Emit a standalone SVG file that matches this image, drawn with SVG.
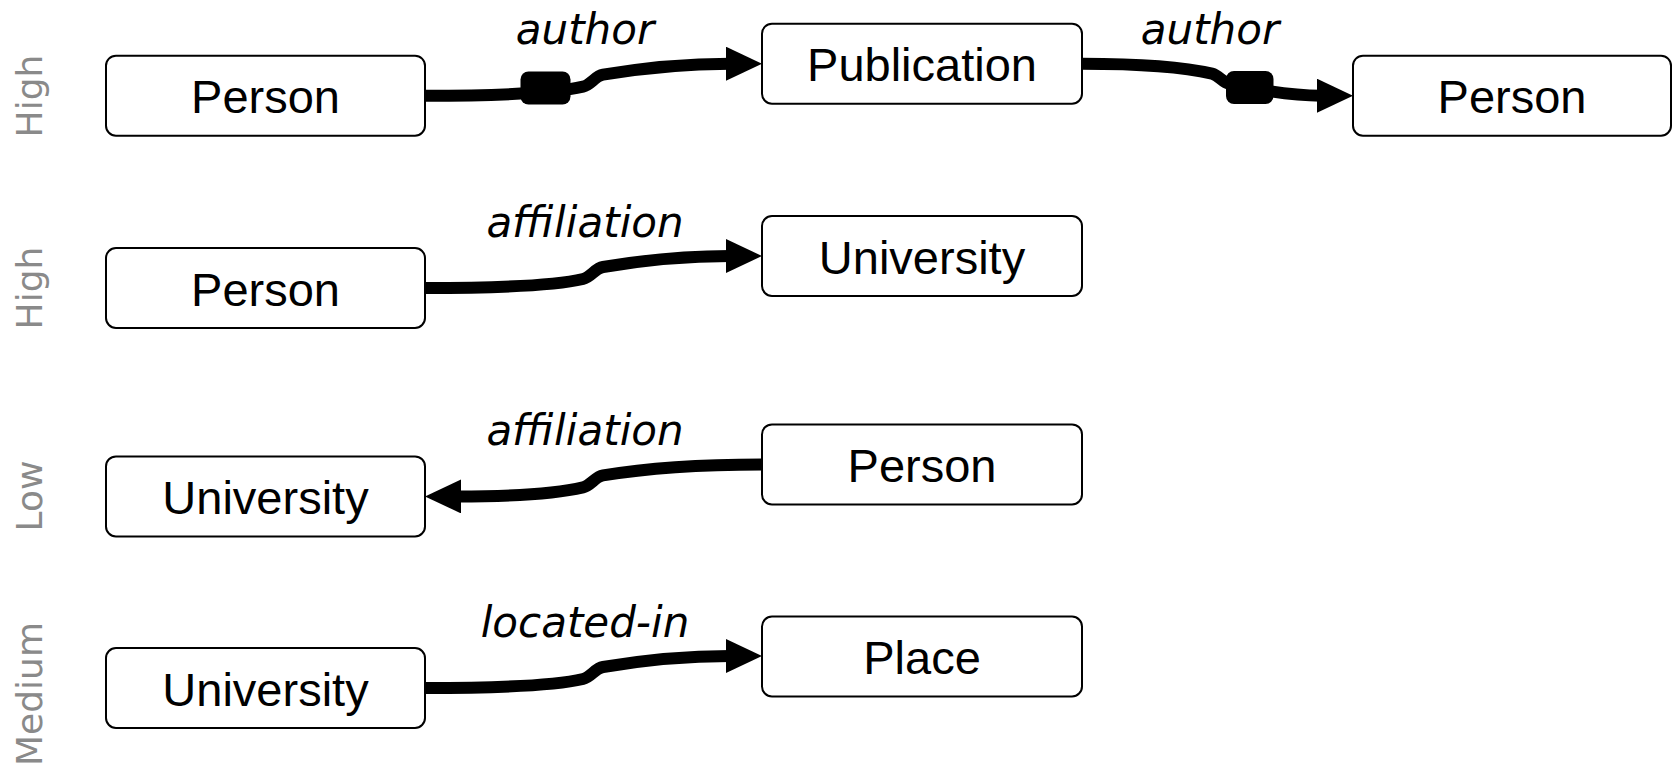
<svg xmlns="http://www.w3.org/2000/svg" width="1676" height="767" viewBox="0 0 1676 767">
  <style>
    .box { fill: #ffffff; stroke: #000000; stroke-width: 2; }
    .label { font-family: "Liberation Sans", Arial, sans-serif; font-size: 47px; fill: #000000; text-anchor: middle; }
    .edge { fill: none; stroke: #000000; stroke-width: 12; }
    .edge-label { font-family: "DejaVu Sans", Verdana, sans-serif; font-style: italic; font-size: 42px; fill: #000000; text-anchor: middle; }
    .level { font-family: "DejaVu Sans", Verdana, sans-serif; font-size: 36px; fill: #8a8a8a; text-anchor: middle; }
    .block { fill: #000000; }
  </style>
  <defs>
    <marker id="arrow" markerUnits="userSpaceOnUse" markerWidth="36" markerHeight="34" refX="4" refY="17" orient="auto">
      <path d="M0,0 L36,17 L0,34 z" fill="#000000"/>
    </marker>
  </defs>

  <rect width="1676" height="767" fill="#ffffff"/>

  <!-- row levels -->
  <g id="levels">
    <text class="level" transform="translate(41.7,96) rotate(-90)">High</text>
    <text class="level" transform="translate(41.7,288) rotate(-90)">High</text>
    <text class="level" transform="translate(41.7,496) rotate(-90)">Low</text>
    <text class="level" transform="translate(41.7,694) rotate(-90)">Medium</text>
  </g>

  <!-- connectors -->
  <g id="connectors">
    <path class="edge" marker-end="url(#arrow)" d="M425,95.7 Q545,95.7 583,86.7 C591,84.8 595,76.1 603,74.7 Q668,63.7 730,63.7"/>
    <rect class="block" x="520.5" y="71.5" width="50" height="33" rx="8"/>
    <text class="edge-label" x="585" y="43.5">author</text>

    <path class="edge" marker-end="url(#arrow)" d="M1082,63.7 Q1170,63.7 1212,73.7 C1219,75.4 1222,82.2 1229,83.7 Q1285,95.7 1321,95.7"/>
    <rect class="block" x="1226" y="71" width="47.5" height="33" rx="8"/>
    <text class="edge-label" x="1210" y="43.5">author</text>

    <path class="edge" marker-end="url(#arrow)" d="M425,288 Q545,288 583,279 C591,277.1 595,268.4 603,267 Q668,256 730,256"/>
    <text class="edge-label" x="585" y="236.5">affiliation</text>

    <path class="edge" marker-end="url(#arrow)" d="M762,464.4 Q668,464.4 603,475.4 C595,476.8 591,485.5 583,487.4 Q545,496.4 457,496.4"/>
    <text class="edge-label" x="585" y="444.5">affiliation</text>

    <path class="edge" marker-end="url(#arrow)" d="M425,688 Q545,688 583,679 C591,677.1 595,668.4 603,667 Q668,656 730,656"/>
    <text class="edge-label" x="585" y="636.5">located-in</text>
  </g>

  <!-- nodes -->
  <g id="person1">
    <rect class="box" x="106" y="55.7" width="319" height="80" rx="10"/>
    <text class="label" x="265.5" y="113.2">Person</text>
  </g>
  <g id="publication">
    <rect class="box" x="762" y="23.7" width="320" height="80" rx="10"/>
    <text class="label" x="922" y="81.2">Publication</text>
  </g>
  <g id="person2">
    <rect class="box" x="1353" y="55.7" width="318" height="80" rx="10"/>
    <text class="label" x="1512" y="113.2">Person</text>
  </g>
  <g id="person3">
    <rect class="box" x="106" y="248" width="319" height="80" rx="10"/>
    <text class="label" x="265.5" y="305.5">Person</text>
  </g>
  <g id="university1">
    <rect class="box" x="762" y="216" width="320" height="80" rx="10"/>
    <text class="label" x="922" y="273.5">University</text>
  </g>
  <g id="university2">
    <rect class="box" x="106" y="456.4" width="319" height="80" rx="10"/>
    <text class="label" x="265.5" y="513.9">University</text>
  </g>
  <g id="person4">
    <rect class="box" x="762" y="424.4" width="320" height="80" rx="10"/>
    <text class="label" x="922" y="481.9">Person</text>
  </g>
  <g id="university3">
    <rect class="box" x="106" y="648" width="319" height="80" rx="10"/>
    <text class="label" x="265.5" y="705.5">University</text>
  </g>
  <g id="place">
    <rect class="box" x="762" y="616.5" width="320" height="80" rx="10"/>
    <text class="label" x="922" y="674">Place</text>
  </g>
</svg>
